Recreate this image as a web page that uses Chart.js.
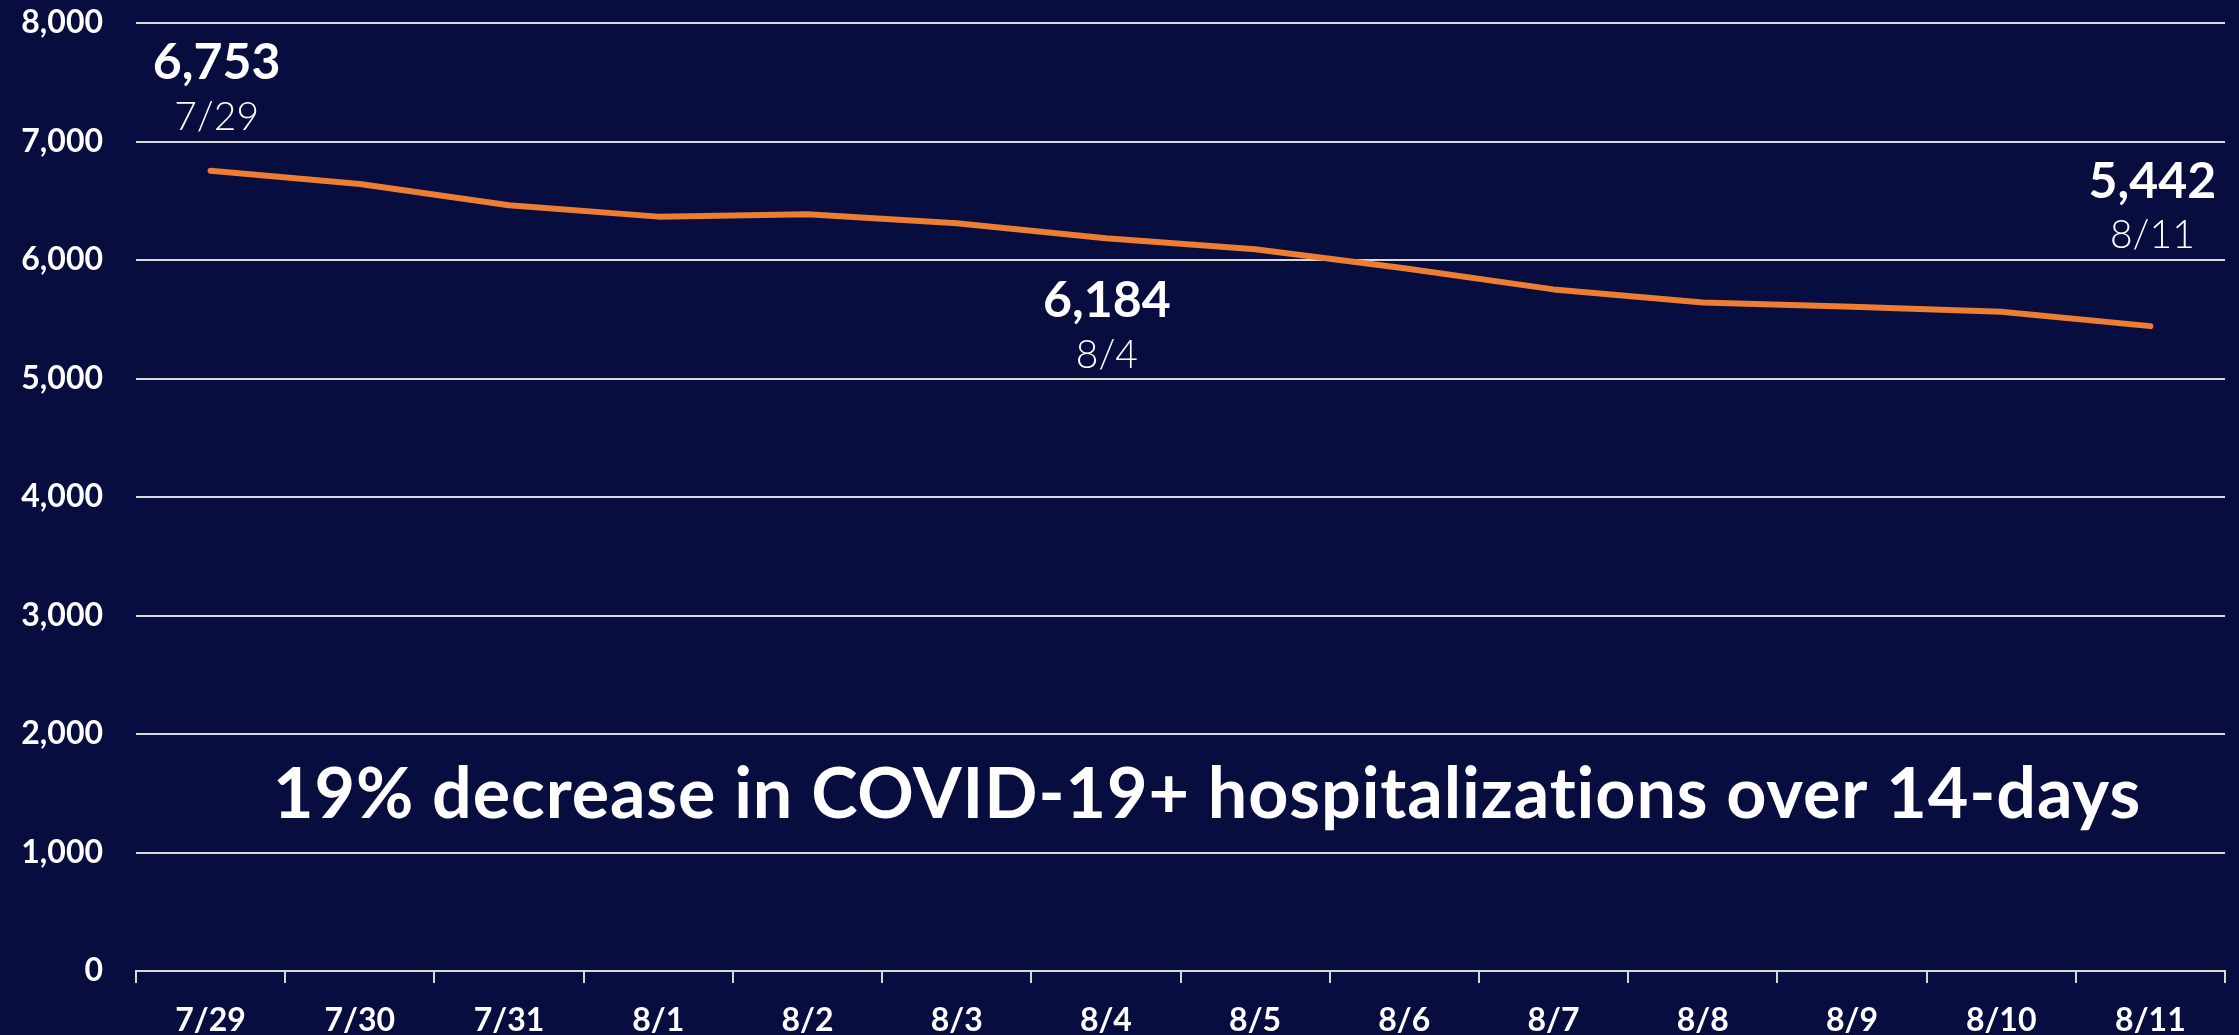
<!DOCTYPE html>
<html>
<head>
<meta charset="utf-8">
<script src="https://cdn.jsdelivr.net/npm/chart.js@4/dist/chart.umd.min.js"></script>
<style>
  html, body { margin: 0; padding: 0; background: #080D40; }
  #wrap { width: 2239px; height: 1035px; position: relative; }
  canvas { display: block; }
</style>
</head>
<body>
<div id="wrap"><canvas id="c"></canvas></div>
<script>
// ---- data ----
const categories = ['7/29','7/30','7/31','8/1','8/2','8/3','8/4','8/5','8/6','8/7','8/8','8/9','8/10','8/11'];
const hospitalizations = [6753, 6642, 6462, 6366, 6386, 6310, 6184, 6090, 5930, 5752, 5642, 5605, 5563, 5442];
const yTickValues = [0, 1000, 2000, 3000, 4000, 5000, 6000, 7000, 8000];
const calloutIndices = [0, 6, 13];
const headline = '19% decrease in COVID-19+ hospitalizations over 14-days';

// ---- styles ----
const BG = '#080D40';
const GRID = '#d9d9d9';
const LINE = '#ED7D31';
const FONT = 'Lato, "Open Sans", "DejaVu Sans", sans-serif';

// callout placement (style only): offsets relative to the data point
const calloutStyle = {
  0:  { dx: 6, bigDy: -92, dateDy: -41 },
  6:  { dx: 1, bigDy: 79,  dateDy: 130 },
  13: { dx: 2, bigDy: -128, dateDy: -78 }
};

const annotationPlugin = {
  id: 'callouts',
  afterDatasetsDraw(chart) {
    const ctx = chart.ctx;
    const meta = chart.getDatasetMeta(0);
    const area = chart.chartArea;
    ctx.save();
    ctx.fillStyle = '#ffffff';
    ctx.textAlign = 'center';
    ctx.textBaseline = 'alphabetic';
    calloutIndices.forEach(i => {
      const pt = meta.data[i];
      const st = calloutStyle[i];
      ctx.font = 'bold 50px ' + FONT;
      ctx.fillText(hospitalizations[i].toLocaleString('en-US'), pt.x + st.dx, pt.y + st.bigDy);
      ctx.font = '300 39px ' + FONT;
      ctx.fillText(categories[i], pt.x + st.dx, pt.y + st.dateDy);
    });
    ctx.font = 'bold 70px ' + FONT;
    if ('letterSpacing' in ctx) ctx.letterSpacing = '0.9px';
    ctx.fillText(headline, area.left + 1071, area.bottom - 153);
    ctx.restore();
  }
};

const bgPlugin = {
  id: 'bg',
  beforeDraw(chart) {
    const ctx = chart.ctx;
    ctx.save();
    ctx.fillStyle = BG;
    ctx.fillRect(0, 0, chart.width, chart.height);
    ctx.restore();
  }
};

new Chart(document.getElementById('c'), {
  type: 'line',
  data: {
    labels: categories,
    datasets: [{
      data: hospitalizations,
      borderColor: LINE,
      borderWidth: 6,
      pointRadius: 0,
      tension: 0,
      borderCapStyle: 'round',
      borderJoinStyle: 'round',
      fill: false
    }]
  },
  options: {
    responsive: true,
    maintainAspectRatio: false,
    animation: false,
    layout: { padding: { top: 23, right: 14, left: 0, bottom: 0 } },
    plugins: { legend: { display: false }, tooltip: { enabled: false }, title: { display: false } },
    scales: {
      x: {
        offset: true,
        grid: { offset: true, drawOnChartArea: false, drawTicks: true, tickLength: 12, color: GRID, lineWidth: 2 },
        border: { display: true, color: GRID, width: 2 },
        ticks: { color: '#ffffff', font: { family: FONT, weight: 'bold', size: 32 }, padding: 18, maxRotation: 0, autoSkip: false },
        afterFit(s) { s.height = 64; }
      },
      y: {
        min: 0,
        max: 8000,
        afterBuildTicks(s) { s.ticks = yTickValues.map(v => ({ value: v })); },
        ticks: { color: '#ffffff', font: { family: FONT, weight: 'bold', size: 32 }, padding: 0,
                 callback: v => Number(v).toLocaleString('en-US') },
        grid: { color: GRID, lineWidth: 2, drawTicks: true, tickLength: 33, tickColor: 'rgba(0,0,0,0)' },
        border: { display: false },
        afterFit(s) { s.width = 136; }
      }
    }
  },
  plugins: [bgPlugin, annotationPlugin]
});
</script>
</body>
</html>
